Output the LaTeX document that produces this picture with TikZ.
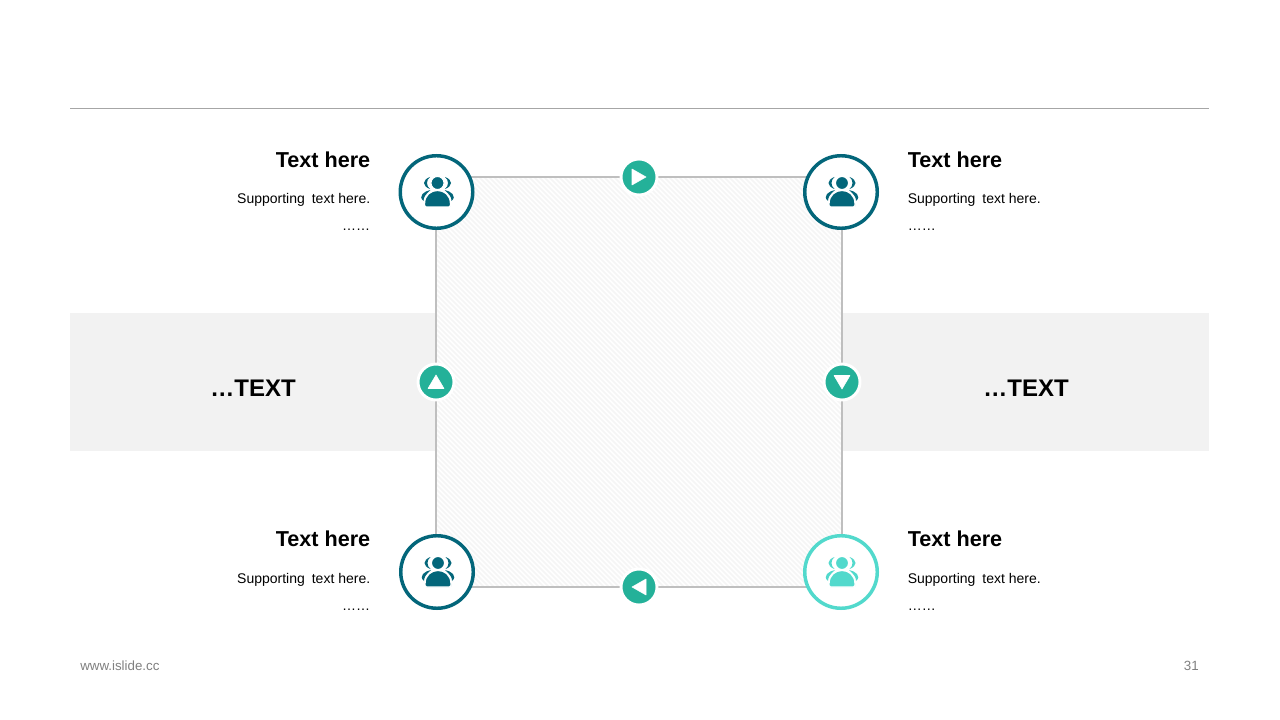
\documentclass[tikz,border=0pt]{standalone}
\usepackage{fontspec}
\setmainfont{Liberation Sans}
\pgfdeclarelayer{bands}
\pgfdeclarelayer{edges}
\pgfsetlayers{bands,edges,main}
\definecolor{teal1}{HTML}{03667A}
\definecolor{green1}{HTML}{24B199}
\definecolor{aqua1}{HTML}{52D9CC}
\definecolor{edgegray}{HTML}{BFBFBF}
\definecolor{rulegray}{HTML}{A6A6A6}
\definecolor{bandgray}{HTML}{F2F2F2}
\definecolor{stripe}{HTML}{F5F5F5}
\tikzset{
  x=0.75pt,y=-0.75pt,
  bigc/.style={circle,draw=#1,fill=white,line width=2.6pt,minimum size=54.4pt,inner sep=0pt},
  smallc/.style={circle,draw=white,fill=green1,line width=2.2pt,minimum size=27pt,inner sep=0pt},
  edgeline/.style={draw=edgegray,line width=1.5pt},
  tri/.style={fill=white,draw=white,line width=0.4pt,line join=round},
  headtext/.style={font=\fontsize{16.2}{18}\selectfont\bfseries,inner sep=0pt},
  subtext/.style={font=\fontsize{10.5}{13}\selectfont,inner sep=0pt},
  midtext/.style={font=\fontsize{18}{20}\selectfont\bfseries,inner sep=0pt},
  foot/.style={font=\fontsize{10}{12}\selectfont,text=black!50,inner sep=0pt},
  pics/person/.style={code={
    \fill[#1] (-6.5,-15) .. controls (-14.5,-12) and (-14.5,-6) .. (-6.5,-3) .. controls (-10.5,-6) and (-10.5,-12) .. (-6.5,-15) -- cycle;
    \fill[#1] (8.5,-15) .. controls (16.5,-12) and (16.5,-6) .. (8.5,-3) .. controls (12.5,-6) and (12.5,-12) .. (8.5,-15) -- cycle;
    \fill[#1] (-6,-2) .. controls (-12,-1) and (-19,4) .. (-13,9) .. controls (-13,5) and (-11,2.5) .. (-6,-2) -- cycle;
    \fill[#1] (8,-2) .. controls (14,-1) and (21,4) .. (15,9) .. controls (15,5) and (13,2.5) .. (8,-2) -- cycle;
    \filldraw[fill=#1,draw=white,line width=1pt] (1,-9) circle[radius=5pt];
    \filldraw[fill=#1,draw=white,line width=1pt,rounded corners=1pt] (-12,15) -- (-12,13) .. controls (-12,-6) and (14,-6) .. (14,13) -- (14,15) -- cycle;
  }}
}
\begin{document}
\begin{tikzpicture}
\useasboundingbox (0,0) rectangle (1280,720);
\coordinate (tl) at (436,177);
\coordinate (br) at (842,587);
\begin{pgfonlayer}{bands}
  \fill[white] (0,0) rectangle (1280,720);
  \fill[bandgray] (70,313) rectangle (436,451);
  \fill[bandgray] (842,313) rectangle (1209,451);
  \fill[white] (tl) rectangle (br);
  \begin{scope}
    \clip (tl) rectangle (br);
    \foreach \k in {-420,-415,...,420}
      \draw[stripe,line width=1.1pt] (639+\k-220,382-220) -- (639+\k+220,382+220);
  \end{scope}
\end{pgfonlayer}
\draw[rulegray,line width=0.75pt] (70,108.5) -- (1209,108.5);

\node[bigc=teal1] (c1) at (436.5,192) {};
\node[bigc=teal1] (c2) at (841,192) {};
\node[bigc=teal1] (c3) at (437,572) {};
\node[bigc=aqua1] (c4) at (841,572) {};
\pic at (c1) {person=teal1};
\pic at (c2) {person=teal1};
\pic at (c3) {person=teal1};
\pic at (c4) {person=aqua1};

\node[smallc] (t) at (639,177) {};
\node[smallc] (l) at (436,382) {};
\node[smallc] (r) at (842,382) {};
\node[smallc] (b) at (639,587) {};
\path[tri] (632,169) -- (646,177) -- (632,185) -- cycle;
\path[tri] (428,388.5) -- (436,375) -- (444,388.5) -- cycle;
\path[tri] (834,375.5) -- (842,389) -- (850,375.5) -- cycle;
\path[tri] (646,579) -- (632,587) -- (646,595) -- cycle;

\begin{pgfonlayer}{edges}
  \draw[edgeline] (t) -- (t -| c1);
  \draw[edgeline] (t) -- (t -| c2);
  \draw[edgeline] (l) -- (l |- c1);
  \draw[edgeline] (l) -- (l |- c3);
  \draw[edgeline] (r) -- (r |- c2);
  \draw[edgeline] (r) -- (r |- c4);
  \draw[edgeline] (b) -- (b -| c3);
  \draw[edgeline] (b) -- (b -| c4);
\end{pgfonlayer}

\node[headtext,anchor=base east] (h1) at (370.5,167.5) {Text here};
\node[subtext,anchor=base east] (s1) at (370.5,204) {Supporting\hspace{2.3pt} text here.};
\node[subtext,anchor=base east] (d1) at (370.5,231) {……};
\node[headtext,anchor=base west] (h2) at (907.5,167.5) {Text here};
\node[subtext,anchor=base west] (s2) at (907.5,204) {Supporting\hspace{2.3pt} text here.};
\node[subtext,anchor=base west] (d2) at (907.5,231) {……};
\node[headtext,anchor=base east] (h3) at (370.5,546.5) {Text here};
\node[subtext,anchor=base east] (s3) at (370.5,583) {Supporting\hspace{2.3pt} text here.};
\node[subtext,anchor=base east] (d3) at (370.5,610.5) {……};
\node[headtext,anchor=base west] (h4) at (907.5,546.5) {Text here};
\node[subtext,anchor=base west] (s4) at (907.5,583) {Supporting\hspace{2.3pt} text here.};
\node[subtext,anchor=base west] (d4) at (907.5,610.5) {……};
\node[midtext,anchor=base] (m1) at (253,396) {…TEXT};
\node[midtext,anchor=base] (m2) at (1026,396) {…TEXT};
\node[foot,anchor=base west] (f1) at (80,670) {www.islide.cc};
\node[foot,anchor=base east] (f2) at (1199,670) {31};
\end{tikzpicture}
\end{document}
